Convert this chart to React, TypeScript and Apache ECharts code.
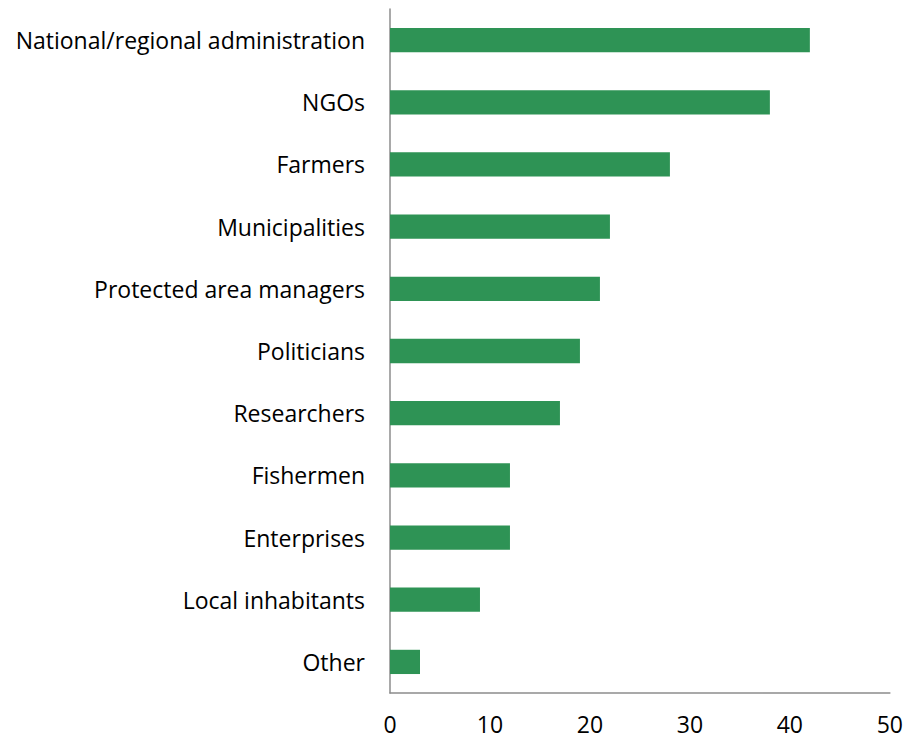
import React, { useEffect, useRef } from "react";
import * as echarts from "echarts";

const categories = [
  "National/regional administration",
  "NGOs",
  "Farmers",
  "Municipalities",
  "Protected area managers",
  "Politicians",
  "Researchers",
  "Fishermen",
  "Enterprises",
  "Local inhabitants",
  "Other",
];
const values = [42, 38, 28, 22, 21, 19, 17, 12, 12, 9, 3];

export default function App() {
  const ref = useRef<HTMLDivElement>(null);
  useEffect(() => {
    document.body.style.margin = "0";
    document.body.style.overflow = "hidden";
    const chart = echarts.init(ref.current!, null, { renderer: "svg" });
    chart.setOption({
      animation: false,
      grid: { left: 390, right: 16, top: 9, bottom: 49, containLabel: false },
      xAxis: {
        type: "value",
        min: 0,
        max: 50,
        interval: 10,
        splitLine: { show: false },
        axisLine: { show: true, lineStyle: { color: "#8c8c8c", width: 1.5 } },
        axisTick: { show: false },
        axisLabel: {
          color: "#000000",
          fontSize: 23,
          fontFamily: "Open Sans",
          margin: 19,
        },
      },
      yAxis: {
        type: "category",
        data: categories,
        inverse: true,
        axisLine: { show: true, lineStyle: { color: "#8c8c8c", width: 1.5 } },
        axisTick: { show: false },
        axisLabel: {
          color: "#000000",
          fontSize: 23,
          fontFamily: "Open Sans",
          margin: 25,
        },
      },
      series: [
        {
          type: "bar",
          data: values,
          barWidth: "39%",
          itemStyle: { color: "#2e9355" },
        },
      ],
    });
    return () => chart.dispose();
  }, []);
  return <div ref={ref} style={{ width: 906, height: 742 }} />;
}
